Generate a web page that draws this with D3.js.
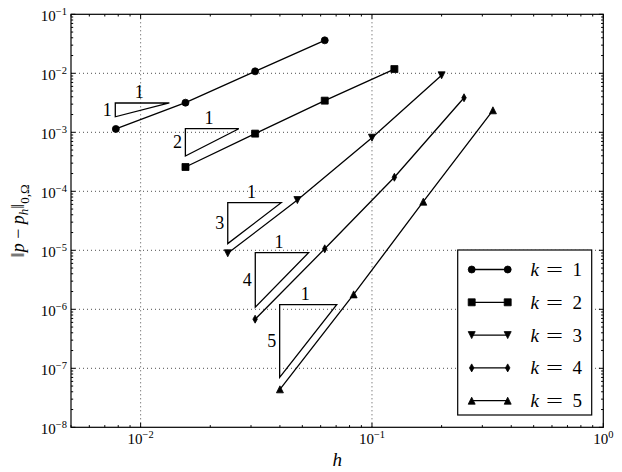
<!DOCTYPE html>
<html><head><meta charset="utf-8">
<script src="https://cdn.jsdelivr.net/npm/d3@7"></script>
<style>body{margin:0;background:#fff}svg{display:block}</style>
</head><body><svg id="c" width="622" height="472" font-family="'Liberation Serif', 'DejaVu Serif', serif"></svg>
<script>
// ---- data ----
const hK1 = [1/128, 1/64, 1/32, 1/16];
const errK1 = [1.14e-3, 3.18e-3, 1.08e-2, 3.62e-2];
const hK2 = [1/64, 1/32, 1/16, 1/8];
const errK2 = [2.58e-4, 9.5e-4, 3.44e-3, 1.18e-2];
const hK3 = [0.0238, 0.0476, 0.1, 0.2];
const errK3 = [8.9e-6, 7.1e-5, 8.1e-4, 9.25e-3];
const hK4 = [1/32, 1/16, 1/8, 1/4];
const errK4 = [6.8e-7, 1.06e-5, 1.73e-4, 3.85e-3];
const hK5 = [0.04, 1/12, 1/6, 1/3];
const errK5 = [4.4e-8, 1.79e-6, 6.67e-5, 2.36e-3];
const seriesK = ["1", "2", "3", "4", "5"];
const markerKinds = ["circle", "square", "triDown", "thinDiamond", "triUp"];

// slope triangles
const triX0 = [0.00777, 0.01561, 0.0238, 0.0313, 0.0399];
const triX1 = [0.01331, 0.02657, 0.0405, 0.0532, 0.0704];
const triYTop = [3.14e-3, 1.15e-3, 6.41e-5, 9.1e-6, 1.2e-6];
const triSlope = [1, 2, 3, 4, 5];

const xDomain = [0.005, 1];
const yDomain = [1e-8, 1e-1];

// ---- layout ----
const FONT = "'Liberation Serif', 'DejaVu Serif', serif";
const L = 71, R = 603.3, T = 14.3, B = 427.3;
const svg = d3.select("#c");
const x = d3.scaleLog().domain(xDomain).range([L, R]);
const y = d3.scaleLog().domain(yDomain).range([B, T]);

const isMajor = v => Math.abs(Math.log10(v) - Math.round(Math.log10(v))) < 1e-9;
const xAll = x.ticks(), yAll = y.ticks();
const xMajor = xAll.filter(isMajor), xMinor = xAll.filter(v => !isMajor(v));
const yMajor = yAll.filter(isMajor), yMinor = yAll.filter(v => !isMajor(v));

// grid
const grid = svg.append("g").attr("stroke", "#000").attr("stroke-width", 0.7).attr("stroke-dasharray", "1,3");
grid.selectAll("line.gx").data(xMajor.filter(v => x(v) > L + 1 && x(v) < R - 1)).enter().append("line")
  .attr("x1", d => x(d)).attr("x2", d => x(d)).attr("y1", T).attr("y2", B);
grid.selectAll("line.gy").data(yMajor.filter(v => y(v) > T + 1 && y(v) < B - 1)).enter().append("line")
  .attr("y1", d => y(d)).attr("y2", d => y(d)).attr("x1", L).attr("x2", R);

// ticks via d3 axes (inward, all four sides)
function axes(gen, tr, vals, size) {
  const g = svg.append("g").attr("transform", tr)
    .call(gen.tickValues(vals).tickSize(-size).tickFormat("").offset(0));
  g.select(".domain").remove();
  g.selectAll(".tick line").attr("stroke", "#000").attr("stroke-width", 1);
}
[[xMinor, 2.2], [xMajor, 4.4]].forEach(([v, s]) => {
  axes(d3.axisBottom(x), `translate(0,${B})`, v, s);
  axes(d3.axisTop(x), `translate(0,${T})`, v, s);
});
[[yMinor, 2.2], [yMajor, 4.4]].forEach(([v, s]) => {
  axes(d3.axisLeft(y), `translate(${L},0)`, v, s);
  axes(d3.axisRight(y), `translate(${R},0)`, v, s);
});

// frame
svg.append("rect").attr("x", L).attr("y", T).attr("width", R - L).attr("height", B - T)
  .attr("fill", "none").attr("stroke", "#000").attr("stroke-width", 1.2);

const txt = (g) => g.append("text").attr("font-family", FONT).attr("fill", "#000");

// tick labels
const expStr = v => { const e = Math.round(Math.log10(v)); return (e < 0 ? "\u2212" : "") + Math.abs(e); };
xMajor.forEach(v => {
  const t = txt(svg).attr("x", x(v)).attr("y", 444).attr("text-anchor", "middle").attr("font-size", 15);
  t.append("tspan").text("10");
  t.append("tspan").attr("dy", -6).attr("font-size", 10.5).text(expStr(v));
});
yMajor.forEach(v => {
  const t = txt(svg).attr("x", 67).attr("y", y(v) + 6.4).attr("text-anchor", "end").attr("font-size", 15);
  t.append("tspan").text("10");
  t.append("tspan").attr("dy", -6).attr("font-size", 10.5).text(expStr(v));
});

// axis labels
txt(svg).attr("x", (L + R) / 2).attr("y", 466).attr("text-anchor", "middle")
  .attr("font-size", 19).attr("font-style", "italic").text("h");
const yl = txt(svg).attr("transform", `translate(24,${(T + B) / 2}) rotate(-90)`)
  .attr("text-anchor", "middle").attr("font-size", 18);
yl.append("tspan").text("\u2016");
yl.append("tspan").attr("font-style", "italic").text("p");
yl.append("tspan").text(" \u2212 ");
yl.append("tspan").attr("font-style", "italic").text("p");
yl.append("tspan").attr("font-style", "italic").attr("font-size", 13).attr("dy", 4).text("h");
yl.append("tspan").attr("dy", -4).text("\u2016");
yl.append("tspan").attr("font-size", 13).attr("dy", 5).text("0,\u03A9");

// slope triangles
triSlope.forEach((k, i) => {
  const x0 = triX0[i], x1 = triX1[i], yt = triYTop[i];
  const yb = yt / Math.pow(x1 / x0, k);
  const px0 = x(x0), px1 = x(x1), pyt = y(yt), pyb = y(yb);
  svg.append("path").attr("d", `M${px0},${pyt}L${px1},${pyt}L${px0},${pyb}Z`)
    .attr("fill", "none").attr("stroke", "#000").attr("stroke-width", 1.3);
  txt(svg).attr("x", (px0 + px1) / 2 - 3).attr("y", pyt - 5).attr("text-anchor", "middle")
    .attr("font-size", 18).text("1");
  txt(svg).attr("x", px0 - 8).attr("y", (pyt + pyb) / 2 + 6).attr("text-anchor", "middle")
    .attr("font-size", 18).text(String(k));
});

// markers
function marker(g, kind, cx, cy) {
  const s = 7;
  if (kind === "circle") return g.append("circle").attr("cx", cx).attr("cy", cy).attr("r", s / 2);
  let d;
  if (kind === "square") d = `M${-s/2},${-s/2}h${s}v${s}h${-s}Z`;
  if (kind === "triDown") d = `M${-s/2},${-s/2}L${s/2},${-s/2}L0,${s/2}Z`;
  if (kind === "triUp") d = `M0,${-s/2}L${s/2},${s/2}L${-s/2},${s/2}Z`;
  if (kind === "thinDiamond") d = `M0,${-s/2 - 0.5}L${s*0.32},0L0,${s/2 + 0.5}L${-s*0.32},0Z`;
  return g.append("path").attr("d", d).attr("transform", `translate(${cx},${cy})`);
}

const hs = [hK1, hK2, hK3, hK4, hK5], es = [errK1, errK2, errK3, errK4, errK5];
const line = d3.line().x(d => x(d[0])).y(d => y(d[1]));
hs.forEach((h, i) => {
  const pts = h.map((v, j) => [v, es[i][j]]);
  const g = svg.append("g");
  g.append("path").attr("d", line(pts)).attr("fill", "none").attr("stroke", "#000").attr("stroke-width", 1.3);
  const mg = g.append("g").attr("fill", "#000").attr("stroke", "#000").attr("stroke-width", 0.8);
  pts.forEach(p => marker(mg, markerKinds[i], x(p[0]), y(p[1])));
});

// legend
const lg = svg.append("g");
lg.append("rect").attr("x", 457.7).attr("y", 250).attr("width", 134).attr("height", 165)
  .attr("fill", "#fff").attr("stroke", "#000").attr("stroke-width", 1.2);
seriesK.forEach((k, i) => {
  const cy = 269.5 + i * 32.8;
  lg.append("line").attr("x1", 471.7).attr("x2", 507.7).attr("y1", cy).attr("y2", cy)
    .attr("stroke", "#000").attr("stroke-width", 1.3);
  const mg = lg.append("g").attr("fill", "#000").attr("stroke", "#000").attr("stroke-width", 0.8);
  marker(mg, markerKinds[i], 471.7, cy);
  marker(mg, markerKinds[i], 507.7, cy);
  const t = txt(lg).attr("y", cy + 6.5).attr("font-size", 19);
  t.append("tspan").attr("x", 530.5).attr("font-style", "italic").text("k");
  t.append("tspan").attr("x", 546).attr("textLength", 17).attr("lengthAdjust", "spacingAndGlyphs").text("=");
  t.append("tspan").attr("x", 572.5).text(k);
});
</script></body></html>
